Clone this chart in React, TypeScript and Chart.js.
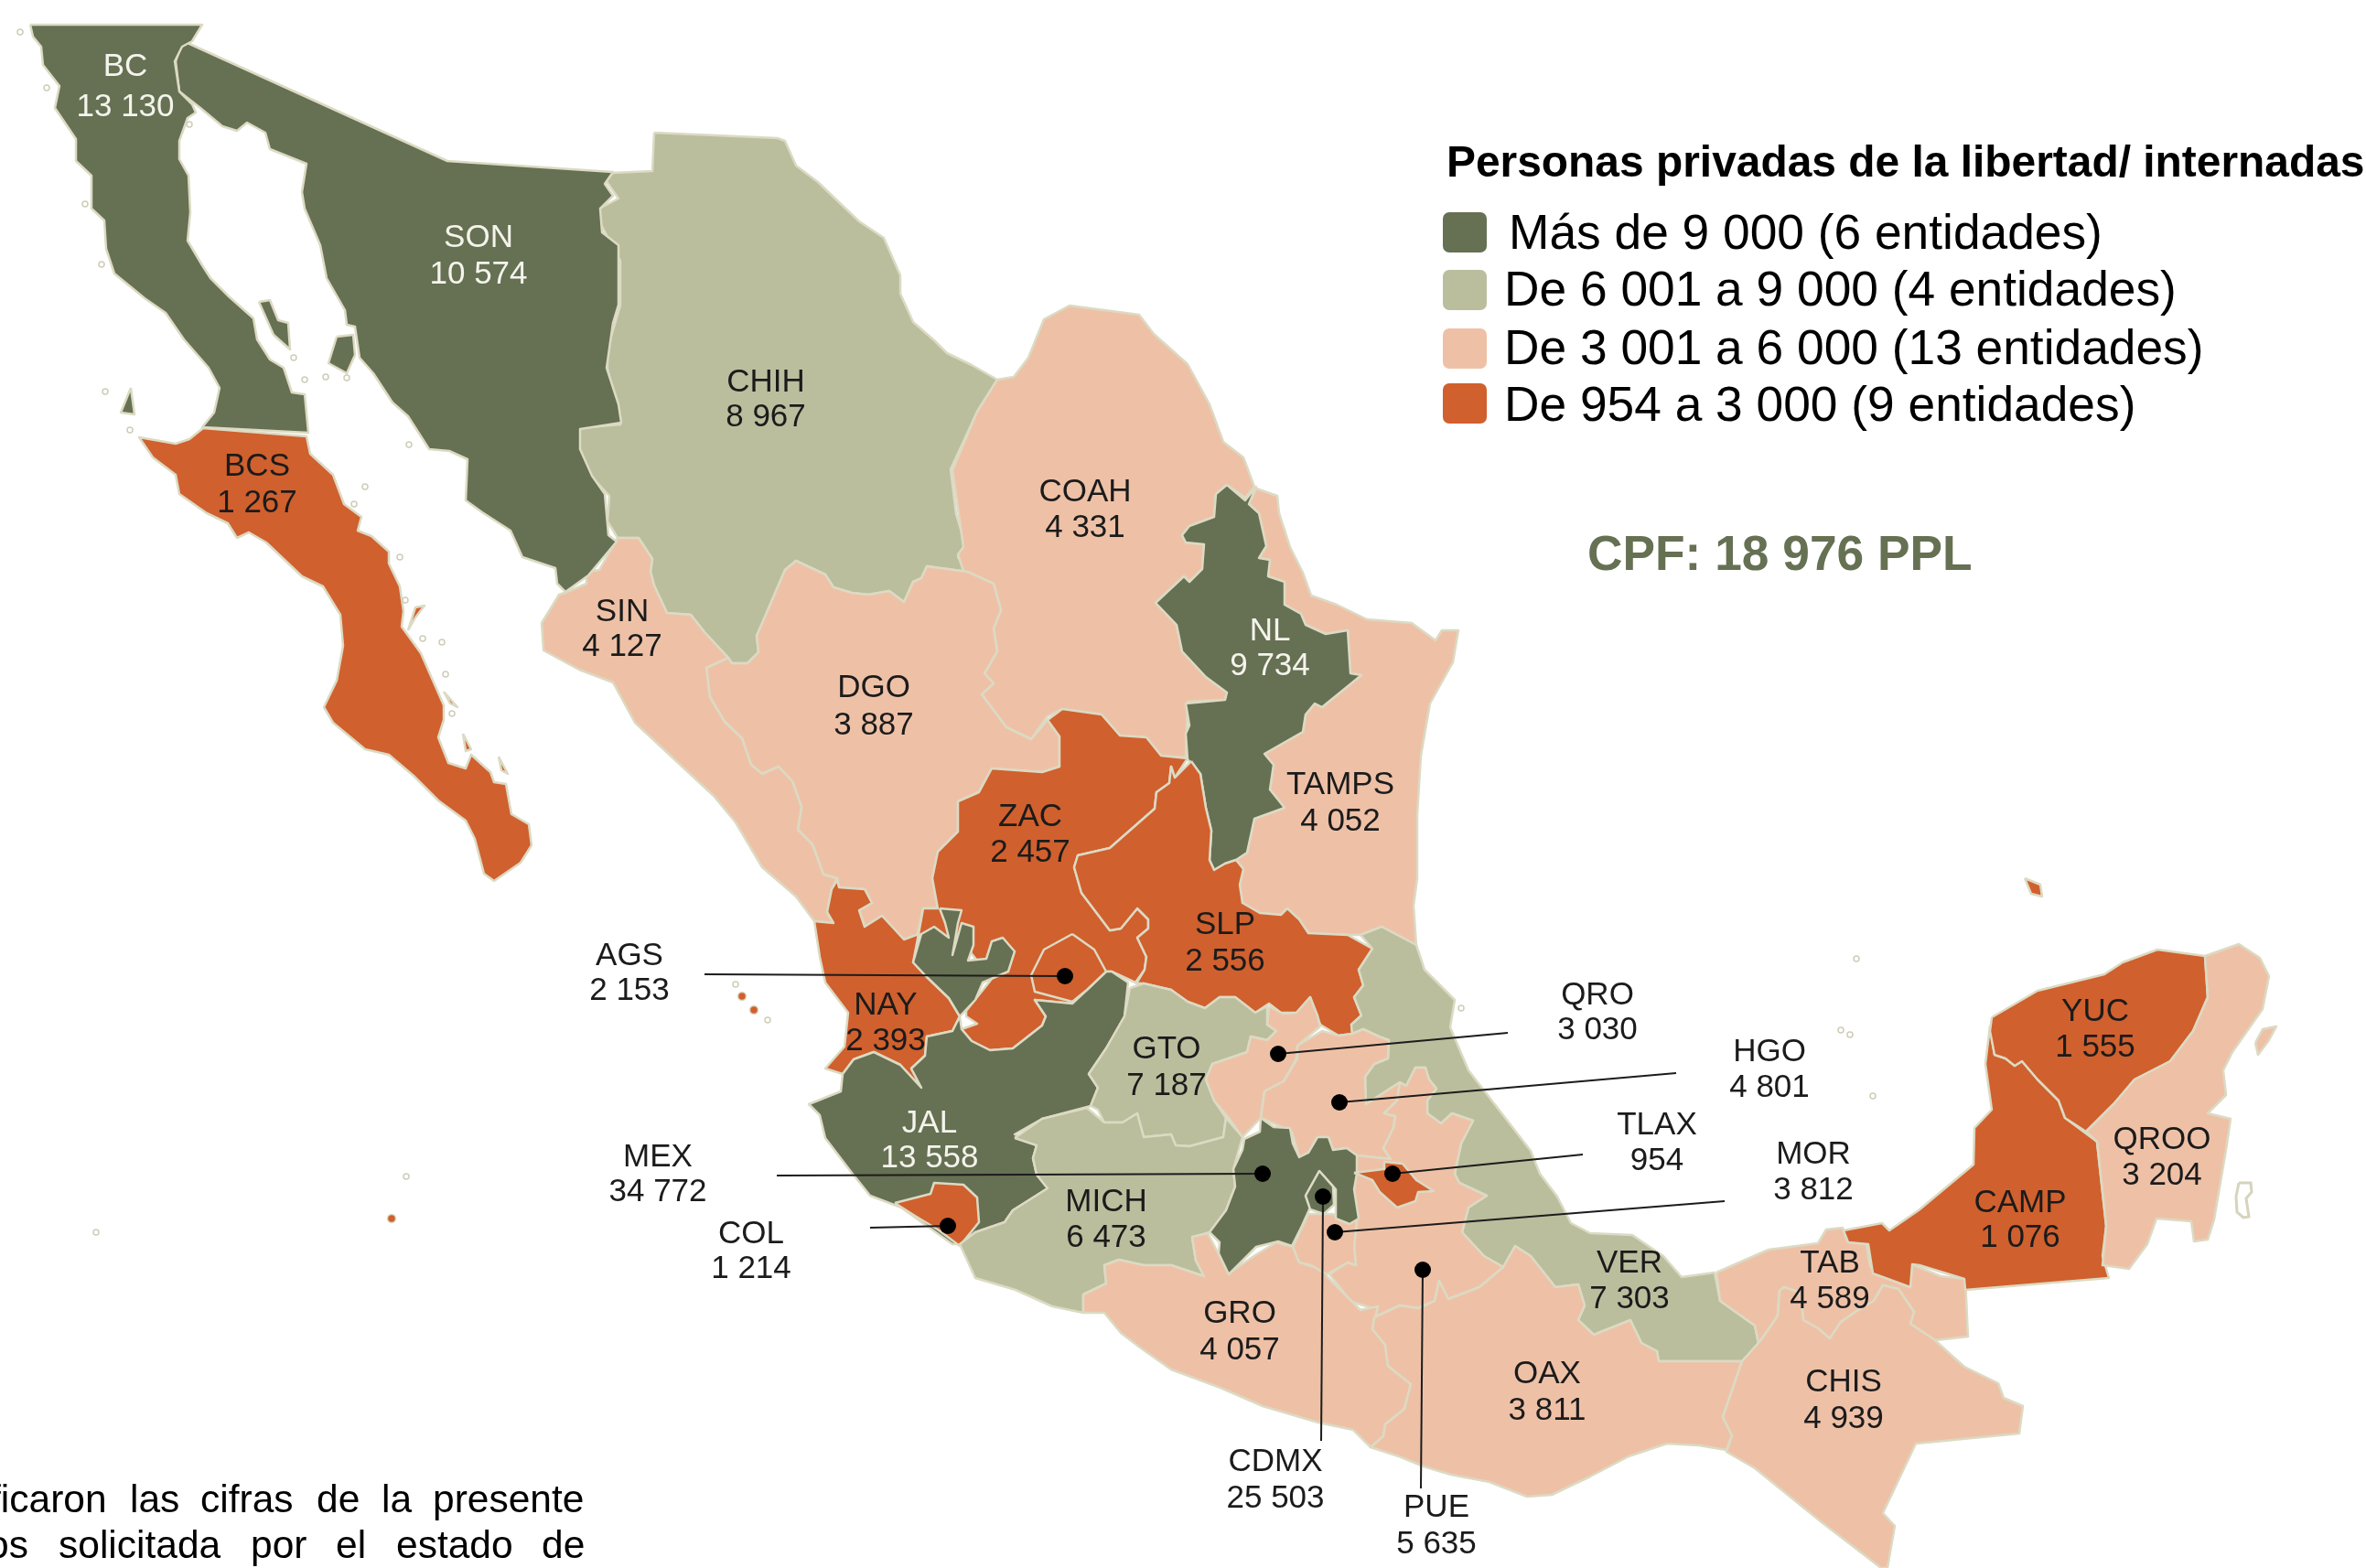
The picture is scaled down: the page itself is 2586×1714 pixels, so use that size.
import React, { useEffect, useRef } from "react";
import { Chart, registerables } from "chart.js";

Chart.register(...registerables);

const FONT = '"Liberation Sans", Arial, sans-serif';
const W = 2586;
const H = 1714;

// Category data
const codes = ["BC","SON","BCS","CHIH","SIN","DGO","COAH","NL","TAMPS","ZAC","SLP","NAY","GTO","JAL","MICH","COL","AGS","MEX","GRO","CDMX","PUE","OAX","VER","TAB","CHIS","MOR","TLAX","HGO","QRO","YUC","QROO","CAMP"];
const values = [13130,10574,1267,8967,4127,3887,4331,9734,4052,2457,2556,2393,7187,13558,6473,1214,2153,34772,4057,25503,5635,3811,7303,4589,4939,3812,954,4801,3030,1555,3204,1076];
const whiteLabels = ["BC","SON","NL","JAL"];

// Legend
const legendTitle = "Personas privadas de la libertad/ internadas";
const legendItems = ["Más de 9 000 (6 entidades)","De 6 001 a 9 000 (4 entidades)","De 3 001 a 6 000 (13 entidades)","De 954 a 3 000 (9 entidades)"];
const classColors = ["#667053","#babe9d","#eec1a7","#d0602e"];
const cpfNote = "CPF: 18 976 PPL";
const footLine1 = ["ficaron","las","cifras","de","la","presente"];
const footLine2 = ["os","solicitada","por","el","estado","de"];

// Geography (map units on the chart's x / y scales)
const BC = [[33,27],[221,27],[210,45],[199,51],[191,67],[196,100],[210,114],[214,123],[205,129],[196,154],[196,174],[206,192],[208,232],[205,263],[221,290],[230,304],[250,324],[277,348],[281,371],[295,393],[310,402],[319,429],[333,431],[337,473],[221,467],[234,451],[240,424],[228,402],[201,371],[181,342],[158,326],[125,299],[116,272],[114,241],[100,228],[100,192],[83,176],[83,152],[60,118],[65,94],[47,71],[45,51],[36,40]];
const SON = [[199,47],[205,47],[489,176],[670,188],[661,201],[670,214],[656,228],[658,254],[676,268],[676,333],[670,353],[663,402],[676,442],[679,462],[634,469],[634,491],[647,520],[661,540],[665,585],[674,592],[643,629],[618,647],[609,638],[607,621],[571,609],[558,580],[527,560],[509,547],[511,502],[491,493],[469,491],[446,455],[429,440],[408,408],[393,391],[388,357],[379,355],[377,339],[357,304],[350,268],[333,228],[330,210],[335,179],[295,163],[290,145],[270,134],[259,143],[243,138],[219,118],[196,100],[192,67]];
const SON_ISLAND = [[368,368],[386,366],[388,388],[379,408],[359,397]];
const BC_ISLAND_A = [[283,330],[295,328],[304,350],[315,353],[317,382],[299,366]];
const BC_ISLAND_B = [[143,424],[147,453],[132,451]];
const BCS = [[222,468],[335,477],[339,496],[364,519],[376,551],[395,565],[391,580],[406,586],[425,603],[425,616],[437,641],[441,668],[439,685],[460,714],[485,771],[485,787],[479,806],[490,834],[509,840],[515,825],[536,844],[540,855],[553,857],[559,890],[578,901],[581,924],[569,943],[540,963],[529,955],[519,917],[509,897],[479,875],[452,848],[425,825],[399,819],[364,790],[354,773],[368,744],[375,706],[372,672],[353,641],[330,630],[291,593],[272,582],[259,588],[249,572],[226,561],[196,540],[192,519],[167,500],[152,478],[192,485],[207,480]];
const BCS_ISLE_A = [[446,689],[454,664],[464,662],[454,675]];
const BCS_ISLE_B = [[485,756],[500,773],[492,769]];
const BCS_ISLE_C = [[506,802],[515,819],[509,821]];
const BCS_ISLE_D = [[545,827],[555,846],[548,842]];
const SIN = [[675,588],[698,588],[713,611],[711,625],[715,640],[729,670],[755,672],[770,691],[796,719],[772,730],[776,762],[792,789],[811,807],[821,836],[833,846],[851,838],[866,854],[876,882],[872,907],[888,923],[900,956],[915,960],[909,972],[904,997],[911,1009],[890,1007],[870,980],[833,948],[804,899],[780,870],[694,790],[670,746],[633,732],[594,711],[592,681],[611,650],[617,648],[641,638],[641,625],[655,623]];
const CHIH = [[715,145],[850,151],[858,154],[870,181],[894,199],[919,223],[939,242],[966,260],[984,301],[984,321],[998,352],[1021,372],[1035,386],[1062,399],[1090,415],[1068,450],[1039,513],[1045,562],[1055,595],[1047,609],[1058,625],[1013,619],[1007,632],[998,636],[988,658],[972,646],[949,650],[931,648],[911,642],[902,628],[870,613],[858,623],[837,672],[827,695],[829,713],[817,725],[800,725],[796,719],[770,691],[755,672],[729,670],[715,640],[711,625],[713,611],[698,588],[675,588],[664,570],[666,542],[643,517],[633,489],[633,468],[678,464],[664,403],[664,381],[678,334],[678,285],[655,242],[655,228],[676,217],[662,197],[670,189],[713,187]];
const COAH = [[1090,415],[1108,412],[1124,391],[1141,349],[1169,334],[1245,344],[1261,365],[1298,398],[1322,442],[1337,483],[1359,500],[1371,532],[1361,544],[1341,530],[1329,540],[1327,565],[1300,575],[1292,585],[1296,593],[1316,595],[1314,622],[1300,636],[1294,630],[1263,659],[1286,683],[1292,712],[1318,740],[1341,757],[1339,765],[1298,767],[1296,828],[1269,826],[1253,806],[1224,804],[1204,781],[1161,775],[1145,783],[1127,808],[1100,795],[1073,759],[1086,747],[1076,736],[1090,712],[1086,687],[1094,667],[1086,638],[1053,624],[1047,606],[1053,598],[1041,514],[1068,450]];
const DGO = [[1058,625],[1086,638],[1094,667],[1086,687],[1090,712],[1076,736],[1086,747],[1073,759],[1100,795],[1127,808],[1145,787],[1158,805],[1158,838],[1139,844],[1084,840],[1070,866],[1047,876],[1047,909],[1025,931],[1019,960],[1025,993],[1009,993],[1002,1025],[988,1027],[964,1001],[945,1013],[939,995],[953,987],[945,972],[917,970],[915,960],[900,956],[888,923],[872,907],[876,882],[866,854],[851,838],[833,846],[821,836],[811,807],[792,789],[776,762],[772,730],[796,719],[800,725],[817,725],[829,713],[827,695],[837,672],[858,623],[870,613],[902,628],[911,642],[931,648],[949,650],[972,646],[988,658],[998,636],[1007,632],[1013,619]];
const ZAC = [[1145,787],[1161,775],[1204,781],[1224,804],[1253,806],[1269,826],[1298,829],[1284,850],[1280,838],[1278,856],[1264,866],[1262,884],[1213,927],[1178,935],[1174,948],[1182,976],[1213,1017],[1225,1015],[1243,993],[1255,1005],[1255,1015],[1243,1025],[1253,1046],[1251,1060],[1241,1074],[1215,1062],[1209,1062],[1188,1082],[1172,1097],[1131,1093],[1143,1111],[1139,1121],[1107,1146],[1082,1148],[1062,1138],[1051,1125],[1068,1119],[1056,1111],[1056,1105],[1084,1070],[1060,1040],[1004,1021],[1009,993],[1025,993],[1019,960],[1025,931],[1047,909],[1047,876],[1070,866],[1084,840],[1139,844],[1158,838],[1158,805]];
const AGS = [[1172,1021],[1196,1038],[1209,1062],[1188,1082],[1172,1095],[1131,1084],[1127,1066],[1141,1038]];
const NAY = [[915,962],[909,972],[904,997],[911,1009],[890,1007],[896,1046],[902,1074],[927,1107],[923,1144],[902,1168],[921,1174],[933,1158],[955,1150],[984,1164],[1007,1189],[996,1168],[1011,1154],[1013,1133],[1041,1127],[1049,1111],[1037,1091],[1013,1068],[998,1052],[1004,1021],[988,1027],[964,1001],[945,1013],[939,995],[953,987],[945,972],[917,970]];
const JAL = [[1209,1062],[1215,1062],[1233,1074],[1229,1111],[1209,1146],[1190,1174],[1200,1189],[1192,1209],[1139,1223],[1109,1240],[1133,1252],[1129,1266],[1133,1284],[1145,1299],[1107,1323],[1098,1336],[1066,1347],[1049,1360],[1041,1360],[985,1320],[951,1307],[931,1282],[902,1244],[896,1219],[884,1207],[919,1193],[921,1174],[933,1158],[955,1150],[984,1164],[1007,1189],[996,1168],[1011,1154],[1013,1133],[1041,1127],[1049,1111],[1051,1125],[1062,1138],[1082,1148],[1107,1146],[1139,1121],[1143,1111],[1131,1093],[1172,1097],[1188,1082]];
const JAL_NORTH = [[1027,993],[1051,995],[1047,1009],[1041,1044],[1051,1009],[1064,1013],[1064,1033],[1058,1050],[1078,1048],[1084,1029],[1096,1025],[1109,1040],[1102,1062],[1074,1074],[1066,1093],[1049,1111],[1037,1091],[1013,1068],[998,1052],[1007,1021],[1021,1013],[1037,1025],[1033,1009]];
const COL = [[978,1315],[1017,1305],[1021,1293],[1053,1295],[1068,1309],[1070,1336],[1049,1362],[1025,1344],[1000,1329]];
const SLP = [[1302,832],[1312,846],[1318,883],[1324,908],[1322,940],[1327,951],[1339,944],[1351,940],[1359,950],[1355,967],[1358,987],[1377,998],[1400,1000],[1407,993],[1420,1005],[1430,1020],[1473,1022],[1500,1037],[1485,1060],[1490,1077],[1480,1090],[1488,1110],[1477,1120],[1478,1130],[1463,1132],[1443,1120],[1438,1107],[1432,1090],[1417,1107],[1400,1107],[1387,1097],[1372,1107],[1350,1090],[1333,1090],[1317,1102],[1298,1095],[1280,1082],[1250,1075],[1242,1075],[1251,1060],[1253,1046],[1243,1025],[1255,1015],[1255,1005],[1243,993],[1225,1015],[1213,1017],[1182,976],[1174,948],[1178,935],[1213,927],[1262,884],[1264,866],[1278,856],[1280,838],[1284,850]];
const NL = [[1341,530],[1361,547],[1373,532],[1365,551],[1376,561],[1384,597],[1376,610],[1388,612],[1386,630],[1404,636],[1404,661],[1422,671],[1427,683],[1449,693],[1473,689],[1476,736],[1488,738],[1445,773],[1437,769],[1427,781],[1424,800],[1382,824],[1392,836],[1388,863],[1404,883],[1371,895],[1363,932],[1351,940],[1339,944],[1327,951],[1322,940],[1324,908],[1318,883],[1312,846],[1298,830],[1296,802],[1300,793],[1296,769],[1339,765],[1341,757],[1318,740],[1292,712],[1286,683],[1263,659],[1294,630],[1300,636],[1314,622],[1316,595],[1296,593],[1292,585],[1300,575],[1327,565],[1329,540]];
const TAMPS = [[1373,534],[1396,542],[1398,561],[1410,598],[1424,626],[1433,651],[1461,661],[1494,677],[1543,681],[1569,700],[1576,689],[1594,689],[1588,724],[1563,769],[1553,826],[1549,891],[1549,960],[1545,990],[1548,1033],[1510,1013],[1487,1022],[1473,1022],[1430,1020],[1420,1005],[1407,993],[1400,1000],[1377,998],[1358,987],[1355,967],[1359,950],[1351,940],[1363,932],[1371,895],[1404,883],[1388,863],[1392,836],[1382,824],[1424,800],[1427,781],[1437,769],[1445,773],[1488,738],[1476,736],[1473,689],[1449,693],[1427,683],[1422,671],[1404,661],[1404,636],[1386,630],[1388,612],[1376,610],[1384,597],[1376,561],[1365,551]];
const GTO = [[1235,1080],[1250,1075],[1280,1082],[1298,1095],[1317,1102],[1333,1090],[1350,1090],[1372,1107],[1385,1100],[1385,1120],[1395,1127],[1385,1137],[1367,1133],[1363,1150],[1325,1163],[1318,1180],[1327,1203],[1340,1222],[1337,1243],[1300,1253],[1285,1252],[1280,1240],[1250,1243],[1243,1217],[1227,1227],[1207,1227],[1200,1213],[1192,1209],[1200,1189],[1190,1174],[1209,1146],[1229,1111]];
const QRO = [[1387,1100],[1402,1108],[1417,1107],[1432,1090],[1440,1110],[1443,1122],[1418,1143],[1417,1157],[1403,1182],[1382,1193],[1378,1222],[1358,1243],[1343,1222],[1327,1203],[1318,1180],[1325,1163],[1363,1150],[1367,1133],[1385,1137],[1395,1127],[1385,1120]];
const MICH = [[1109,1244],[1139,1223],[1188,1211],[1207,1227],[1227,1227],[1243,1217],[1250,1243],[1280,1240],[1285,1252],[1300,1253],[1337,1243],[1340,1222],[1358,1243],[1348,1278],[1350,1297],[1340,1323],[1322,1347],[1303,1353],[1307,1378],[1316,1395],[1280,1383],[1250,1383],[1223,1377],[1207,1383],[1209,1403],[1184,1415],[1184,1435],[1150,1428],[1110,1410],[1066,1397],[1049,1360],[1066,1347],[1098,1336],[1107,1323],[1145,1299],[1133,1284],[1129,1266],[1133,1252]];
const VER = [[1487,1022],[1510,1013],[1548,1033],[1557,1060],[1590,1093],[1585,1123],[1605,1170],[1673,1258],[1683,1283],[1702,1308],[1717,1337],[1738,1348],[1784,1350],[1818,1373],[1838,1396],[1874,1391],[1880,1422],[1918,1449],[1922,1468],[1904,1488],[1813,1488],[1811,1477],[1794,1468],[1782,1443],[1742,1459],[1725,1443],[1732,1427],[1725,1404],[1700,1407],[1673,1373],[1656,1362],[1643,1385],[1622,1373],[1598,1347],[1605,1320],[1625,1307],[1595,1293],[1590,1283],[1597,1250],[1610,1225],[1587,1217],[1575,1228],[1560,1217],[1560,1203],[1570,1190],[1562,1180],[1558,1167],[1547,1167],[1537,1187],[1530,1183],[1493,1207],[1492,1177],[1502,1163],[1517,1157],[1518,1137],[1507,1133],[1490,1125],[1478,1130],[1477,1120],[1488,1110],[1480,1090],[1490,1077],[1485,1060],[1500,1037]];
const HGO = [[1418,1143],[1445,1127],[1463,1132],[1478,1130],[1490,1125],[1507,1133],[1518,1137],[1517,1157],[1502,1163],[1492,1177],[1493,1207],[1530,1183],[1527,1203],[1513,1217],[1525,1220],[1523,1233],[1512,1255],[1520,1267],[1483,1263],[1472,1255],[1457,1257],[1452,1243],[1440,1243],[1430,1260],[1420,1265],[1412,1237],[1378,1222],[1382,1193],[1403,1182],[1418,1157]];
const PUE = [[1530,1183],[1537,1187],[1547,1167],[1558,1167],[1562,1180],[1570,1190],[1560,1203],[1560,1217],[1575,1228],[1587,1217],[1610,1225],[1597,1250],[1590,1283],[1595,1293],[1625,1307],[1605,1320],[1598,1347],[1622,1373],[1643,1385],[1617,1407],[1583,1420],[1573,1400],[1568,1422],[1550,1430],[1530,1427],[1502,1440],[1500,1430],[1477,1423],[1453,1393],[1473,1380],[1482,1383],[1480,1363],[1483,1333],[1480,1300],[1483,1263],[1520,1267],[1512,1255],[1523,1233],[1525,1220],[1513,1217],[1527,1203]];
const MOR = [[1413,1363],[1430,1327],[1457,1327],[1467,1333],[1483,1333],[1480,1363],[1482,1383],[1473,1380],[1450,1393],[1433,1383],[1420,1380]];
const TLAX = [[1480,1282],[1512,1278],[1513,1270],[1533,1272],[1548,1290],[1567,1302],[1550,1303],[1547,1313],[1527,1320],[1508,1303],[1500,1290]];
const MEX = [[1378,1222],[1392,1232],[1410,1233],[1413,1250],[1420,1265],[1430,1260],[1440,1243],[1452,1243],[1457,1257],[1472,1255],[1483,1263],[1483,1283],[1480,1300],[1485,1332],[1475,1338],[1460,1332],[1460,1300],[1442,1280],[1427,1307],[1432,1320],[1423,1340],[1412,1362],[1397,1357],[1373,1363],[1343,1393],[1332,1370],[1333,1358],[1322,1347],[1340,1323],[1350,1297],[1348,1278],[1358,1257],[1360,1245],[1377,1237]];
const CDMX = [[1442,1280],[1427,1307],[1432,1322],[1447,1327],[1458,1317],[1457,1297]];
const GRO = [[1184,1415],[1209,1403],[1207,1383],[1223,1377],[1250,1383],[1280,1383],[1316,1395],[1307,1378],[1303,1352],[1320,1348],[1343,1392],[1372,1372],[1395,1358],[1414,1363],[1426,1382],[1448,1388],[1450,1395],[1468,1413],[1487,1432],[1506,1428],[1500,1453],[1514,1470],[1517,1493],[1542,1513],[1535,1540],[1514,1557],[1512,1570],[1498,1582],[1479,1563],[1441,1555],[1380,1537],[1334,1517],[1280,1497],[1246,1473],[1225,1457],[1207,1435],[1184,1435]];
const OAX = [[1502,1440],[1530,1427],[1550,1430],[1568,1422],[1573,1400],[1583,1420],[1617,1407],[1643,1385],[1656,1362],[1673,1373],[1700,1407],[1725,1404],[1732,1427],[1725,1443],[1742,1459],[1782,1443],[1794,1468],[1811,1477],[1813,1488],[1904,1488],[1883,1549],[1893,1569],[1887,1585],[1857,1580],[1822,1578],[1780,1592],[1738,1614],[1696,1634],[1669,1636],[1628,1620],[1586,1612],[1556,1603],[1529,1592],[1498,1582],[1512,1570],[1514,1557],[1535,1540],[1542,1513],[1517,1493],[1514,1470],[1500,1453]];
const TAB = [[1876,1391],[1933,1366],[1987,1359],[1996,1344],[2014,1342],[2019,1357],[2040,1360],[2044,1384],[2056,1395],[2088,1407],[2090,1382],[2121,1395],[2148,1398],[2151,1461],[2115,1465],[2088,1447],[2092,1434],[2075,1409],[2058,1405],[2048,1422],[2031,1432],[2012,1445],[2000,1463],[1987,1452],[1971,1443],[1968,1413],[1950,1407],[1945,1411],[1943,1438],[1931,1456],[1922,1468],[1918,1449],[1880,1422]];
const CHIS = [[1904,1488],[1922,1468],[1931,1456],[1943,1438],[1945,1411],[1950,1407],[1968,1413],[1971,1443],[1987,1452],[2000,1463],[2012,1445],[2031,1432],[2048,1422],[2058,1405],[2075,1409],[2092,1434],[2088,1447],[2115,1465],[2128,1477],[2147,1494],[2184,1512],[2190,1528],[2211,1537],[2207,1567],[2094,1578],[2058,1654],[2071,1668],[2063,1714],[2056,1714],[1991,1664],[1918,1605],[1887,1587],[1893,1569],[1883,1549]];
const CAMP = [[2015,1345],[2057,1337],[2065,1345],[2097,1323],[2157,1273],[2158,1233],[2177,1213],[2170,1163],[2175,1122],[2180,1153],[2192,1157],[2202,1165],[2210,1160],[2227,1180],[2250,1203],[2257,1222],[2292,1248],[2302,1340],[2298,1373],[2305,1397],[2148,1410],[2147,1398],[2098,1383],[2090,1382],[2088,1407],[2047,1392],[2042,1360],[2020,1358]];
const YUC = [[2177,1112],[2227,1083],[2300,1065],[2320,1052],[2358,1038],[2410,1045],[2413,1090],[2397,1127],[2372,1160],[2333,1180],[2310,1207],[2280,1237],[2257,1222],[2250,1203],[2227,1180],[2210,1160],[2202,1165],[2192,1157],[2180,1153],[2175,1127]];
const YUC_ISLAND = [[2213,960],[2230,967],[2232,980],[2220,977]];
const QROO = [[2410,1045],[2447,1032],[2470,1047],[2480,1067],[2473,1103],[2440,1150],[2430,1170],[2433,1197],[2413,1217],[2438,1223],[2433,1257],[2420,1333],[2413,1355],[2398,1357],[2395,1335],[2357,1332],[2347,1360],[2327,1387],[2298,1383],[2302,1340],[2292,1248],[2280,1237],[2310,1207],[2333,1180],[2372,1160],[2397,1127],[2413,1090]];
const QROO_ISLAND = [[2465,1140],[2473,1125],[2488,1122],[2480,1137],[2468,1153]];
const CHINCHORRO = [[2447,1293],[2460,1293],[2461,1303],[2455,1310],[2458,1330],[2452,1331],[2445,1325],[2444,1308]];

const paleIslets = [[22,35],[51,96],[93,223],[111,289],[115,428],[142,470],[207,136],[321,391],[333,415],[356,412],[379,413],[447,486],[399,532],[387,551],[437,609],[443,656],[462,698],[483,702],[487,737],[494,780],[804,1076],[839,1115],[2029,1048],[2012,1126],[2022,1131],[2047,1198],[1597,1102],[105,1347],[444,1286]];
const orangeIslets = [[811,1089],[824,1104],[428,1332]];

// Draw sequence, bottom to top, with the state each shape belongs to
const shapes = [
  ["CHIH",CHIH],["COAH",COAH],["DGO",DGO],["SIN",SIN],["SON",SON],["SON",SON_ISLAND],["BC",BC],["BC",BC_ISLAND_A],["BC",BC_ISLAND_B],
  ["BCS",BCS],["BCS",BCS_ISLE_A],["BCS",BCS_ISLE_B],["BCS",BCS_ISLE_C],["BCS",BCS_ISLE_D],["TAMPS",TAMPS],["ZAC",ZAC],["NL",NL],["SLP",SLP],["NAY",NAY],
  ["JAL",JAL],["JAL",JAL_NORTH],["AGS",AGS],["COL",COL],["GTO",GTO],["QRO",QRO],["MICH",MICH],["VER",VER],["HGO",HGO],["PUE",PUE],["GRO",GRO],["MOR",MOR],
  ["OAX",OAX],["TAB",TAB],["CHIS",CHIS],["CAMP",CAMP],["YUC",YUC],["YUC",YUC_ISLAND],["QROO",QROO],["QROO",QROO_ISLAND],["MEX",MEX],["CDMX",CDMX],["TLAX",TLAX],
] as [string, number[][]][];

// Callouts: state code, marker point, far end of the leader
const leaderCodes = ["QRO","HGO","TLAX","MOR","PUE","CDMX","MEX","COL","AGS"];
const leaderMarkers = [[1397,1152],[1464,1205],[1522,1283],[1459,1347],[1555,1388],[1446,1308],[1380,1283],[1036,1340],[1164,1067]];
const leaderEnds = [[1648,1129],[1832,1173],[1730,1262],[1885,1313],[1553,1627],[1444,1575],[849,1285],[951,1342],[770,1065]];

// Label placement on the map scales: centre x, first baseline, second baseline
const labelAnchors: Record<string, number[]> = {
  BC:[137,83,127],SON:[523,270,310],BCS:[281,520,560],CHIH:[837,428,466],SIN:[680,679,717],DGO:[955,762,803],COAH:[1186,548,587],NL:[1388,700,738],TAMPS:[1465,868,908],
  ZAC:[1126,903,942],SLP:[1339,1021,1061],NAY:[968,1109,1148],GTO:[1275,1157,1197],JAL:[1016,1238,1276],MICH:[1209,1324,1363],COL:[821,1359,1397],AGS:[688,1055,1093],
  MEX:[719,1275,1313],GRO:[1355,1446,1486],CDMX:[1394,1608,1648],PUE:[1570,1658,1698],OAX:[1691,1512,1552],VER:[1781,1391,1430],TAB:[2000,1391,1430],CHIS:[2015,1521,1561],
  MOR:[1982,1272,1311],TLAX:[1811,1240,1279],HGO:[1934,1160,1199],QRO:[1746,1098,1136],YUC:[2290,1116,1155],QROO:[2363,1256,1295],CAMP:[2208,1325,1363],
};
const legendSwatchTops = [232,295,359,419];
const legendBaselines = [272,334,398,460];
const legendTextLefts = [1649,1644,1644,1644];
const foot1Lefts = [-11,142,219,346,417,473];
const foot2Lefts = [-14,64,274,367,433,592];

const BORDER = "#dcdac3";

function classOf(v: number) {
  if (v > 9000) return 0;
  if (v > 6000) return 1;
  if (v > 3000) return 2;
  return 3;
}
function fmt(v: number) {
  return String(v).replace(/\B(?=(\d{3})+$)/g, " ");
}
const pts = (arr: number[][]) => arr.map(([x, y]) => ({ x, y }));

const textPlugin = {
  id: "mapText",
  afterDatasetsDraw(chart: any) {
    const { ctx, scales } = chart;
    const px = (v: number) => scales.x.getPixelForValue(v);
    const py = (v: number) => scales.y.getPixelForValue(v);
    ctx.save();
    ctx.textBaseline = "alphabetic";
    ctx.textAlign = "center";
    ctx.font = `35px ${FONT}`;
    codes.forEach((c, i) => {
      const [cx, b1, b2] = labelAnchors[c];
      ctx.fillStyle = whiteLabels.includes(c) ? "#f4f4ec" : "#1b1b1b";
      ctx.fillText(c, px(cx), py(b1));
      ctx.fillText(fmt(values[i]), px(cx), py(b2));
    });
    ctx.textAlign = "left";
    ctx.fillStyle = "#000";
    ctx.font = `bold 47.9px ${FONT}`;
    ctx.fillText(legendTitle, px(1581), py(193));
    legendItems.forEach((t, i) => {
      ctx.fillStyle = classColors[i];
      ctx.beginPath();
      ctx.roundRect(px(1577), py(legendSwatchTops[i]), 48, 44, 7);
      ctx.fill();
      ctx.fillStyle = "#000";
      ctx.font = `53.3px ${FONT}`;
      ctx.fillText(t, px(legendTextLefts[i]), py(legendBaselines[i]));
    });
    ctx.fillStyle = classColors[0];
    ctx.font = `bold 53.3px ${FONT}`;
    ctx.fillText(cpfNote, px(1735), py(623));
    ctx.fillStyle = "#000";
    ctx.font = `42.5px ${FONT}`;
    footLine1.forEach((w, i) => ctx.fillText(w, px(foot1Lefts[i]), py(1653)));
    footLine2.forEach((w, i) => ctx.fillText(w, px(foot2Lefts[i]), py(1703)));
    ctx.restore();
  },
};

export default function App() {
  const ref = useRef<HTMLCanvasElement>(null);
  useEffect(() => {
    if (!ref.current) return;
    const stateSets = shapes.map(([code, poly]) => ({
      label: code,
      data: pts([...poly, poly[0]]),
      showLine: true,
      tension: 0,
      fill: "shape",
      backgroundColor: classColors[classOf(values[codes.indexOf(code)])],
      borderColor: BORDER,
      borderWidth: 2.5,
      borderJoinStyle: "round",
      pointRadius: 0,
      pointHoverRadius: 0,
      clip: false,
    }));
    const extras: any[] = [
      { label: "Banco Chinchorro", data: pts([...CHINCHORRO, CHINCHORRO[0]]), showLine: true, fill: false, borderColor: "#d6d4bd", borderWidth: 3, pointRadius: 0, tension: 0 },
      { label: "Islotes", data: pts(paleIslets), showLine: false, pointRadius: 3, backgroundColor: "#ffffff", borderColor: "#cfcdb8", borderWidth: 1.5 },
      { label: "Islotes COL/NAY", data: pts(orangeIslets), showLine: false, pointRadius: 4.5, backgroundColor: classColors[3], borderColor: BORDER, borderWidth: 1.5 },
    ];
    const leaderSets = leaderCodes.map((c, i) => ({
      label: `Línea ${c}`,
      data: pts([leaderMarkers[i], leaderEnds[i]]),
      showLine: true,
      tension: 0,
      fill: false,
      borderColor: "#1c1c1c",
      borderWidth: 2,
      pointRadius: [9, 0],
      pointBackgroundColor: "#000",
      pointBorderWidth: 0,
      clip: false,
    }));
    const all: any[] = [...stateSets, ...extras, ...leaderSets];
    all.forEach((d, i) => { d.order = all.length - i; });
    const chart = new Chart(ref.current, {
      type: "scatter",
      data: { datasets: all },
      options: {
        responsive: false,
        animation: false,
        events: [],
        layout: { padding: 0, autoPadding: false },
        plugins: { legend: { display: false }, tooltip: { enabled: false }, title: { display: false } },
        scales: {
          x: { type: "linear", min: 0, max: W, display: false },
          y: { type: "linear", min: 0, max: H, reverse: true, display: false },
        },
      },
      plugins: [textPlugin],
    } as any);
    return () => chart.destroy();
  }, []);
  return (
    <canvas ref={ref} width={W} height={H} style={{ position: "fixed", left: 0, top: 0, width: W, height: H, background: "#fff" }} />
  );
}
